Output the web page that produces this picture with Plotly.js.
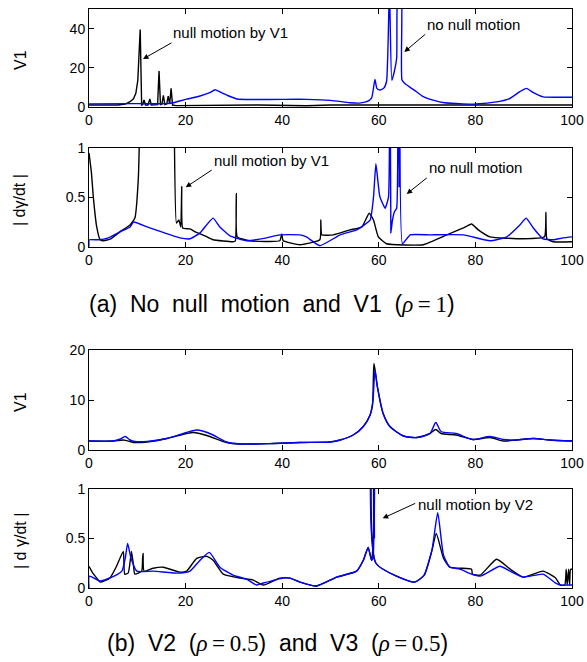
<!DOCTYPE html>
<html>
<head>
<meta charset="utf-8">
<script src="https://cdn.plot.ly/plotly-3.0.1.min.js"></script>
<style>html,body{margin:0;padding:0;background:#fff;}#chart{width:587px;height:662px;}</style>
</head>
<body>
<div id="chart"></div>
<script>
// ---- Panel (a) top: V1 ----
const p1BlackX = [0, 6, 7.5, 8.5, 9.2, 9.7, 10.1, 10.4, 10.6, 10.9, 11.1, 11.4, 11.7, 12.2, 12.6, 12.9, 13.3, 14.2, 14.5, 14.8, 15.1, 15.4, 15.7, 16.1, 16.4, 16.7, 17.0, 17.3, 18, 25, 35, 45, 50, 60, 70, 80, 90, 100];
const p1BlackY = [1.0, 1.0, 1.5, 2.7, 4.2, 7, 13.5, 30, 39.5, 1.0, 1.2, 3.6, 1.0, 1.0, 4.1, 1.0, 1.0, 1.2, 18.4, 1.0, 1.5, 6.0, 1.2, 1.5, 5.5, 1.5, 9.5, 1.0, 0.7, 0.9, 1.0, 0.6, 1.0, 1.0, 1.0, 1.0, 1.0, 1.0];
const p1BlueX = [0, 10, 16, 17.5, 20.2, 23, 25, 26.1, 27, 28.5, 30.6, 34, 40, 45, 50, 54, 56, 57.5, 58.5, 59.2, 59.6, 60.2, 61, 61.6, 62.2, 62.7, 63.2, 63.7, 64.0, 64.6, 64.8, 65.4, 66.5, 67.8, 69, 70.5, 72, 73.3, 75, 77.4, 80.2, 84.4, 87.1, 89.2, 90.6, 92, 94, 96.8, 100];
const p1BlueY = [1.6, 1.7, 1.7, 2.2, 4.0, 5.6, 7.3, 8.8, 7.8, 6.1, 4.1, 3.8, 3.9, 3.9, 3.4, 2.2, 2.0, 2.7, 4.5, 14, 9.5, 8.7, 9.5, 13, 60, 13.6, 18, 25, 60, 60, 13.8, 12, 10, 7.8, 5.6, 4.0, 3.0, 2.3, 1.9, 1.6, 1.5, 2.6, 4.3, 7.8, 9.5, 7.3, 5.2, 5.0, 5.0];

// ---- Panel (a) bottom: |dγ/dt| ----
const p2BlackX = [0, 0.5, 0.9, 1.6, 2.3, 3, 4.5, 6.4, 8.5, 9.5, 10.2, 10.6, 11, 17.3, 17.6, 18.1, 18.6, 19.0, 19.2, 19.4, 20.9, 22, 23, 24, 25.7, 29.8, 30.3, 30.5, 30.7, 33.3, 39.5, 39.9, 40.2, 43.7, 47.8, 48.0, 48.2, 50.6, 54, 56.5, 58, 58.9, 59.9, 61.6, 69.2, 74.1, 77.5, 79.2, 80.6, 83, 89.9, 94.3, 94.6, 94.8, 96.1, 100];
const p2BlackY = [0.95, 0.75, 0.5, 0.2, 0.07, 0.06, 0.08, 0.15, 0.22, 0.29, 0.68, 1.5, 3, 3, 1.5, 0.24, 0.27, 0.2, 0.61, 0.19, 0.18, 0.15, 0.13, 0.11, 0.07, 0.05, 0.06, 0.54, 0.1, 0.06, 0.06, 0.13, 0.06, 0.02, 0.07, 0.27, 0.12, 0.12, 0.17, 0.2, 0.34, 0.27, 0.1, 0.03, 0.02, 0.12, 0.19, 0.23, 0.17, 0.1, 0.08, 0.1, 0.35, 0.08, 0.05, 0.05];
const p2BlueX = [0, 0.05, 2, 4, 6.4, 8.5, 9.2, 12.6, 18.8, 20.9, 23, 24.5, 25.7, 27.1, 29.2, 32.6, 36.8, 39.5, 43.7, 45, 47.8, 52, 55.4, 58.2, 58.9, 59.4, 60.2, 61.3, 62.0, 62.3, 62.5, 62.8, 63.2, 63.7, 63.9, 64.2, 64.5, 64.9, 66.5, 70.6, 77.5, 83, 86.5, 89.2, 90.5, 92, 94, 96.1, 98.2, 100];
const p2BlueY = [0, 0.07, 0.07, 0.09, 0.15, 0.2, 0.25, 0.19, 0.09, 0.08, 0.14, 0.23, 0.29, 0.2, 0.11, 0.06, 0.09, 0.12, 0.12, 0.1, 0.01, 0.12, 0.17, 0.27, 0.5, 0.84, 0.51, 0.39, 0.5, 3, 0.14, 0.26, 0.35, 0.39, 3, 0.6, 3, 0.03, 0.12, 0.12, 0.12, 0.06, 0.1, 0.22, 0.29, 0.19, 0.08, 0.07, 0.09, 0.1];

// ---- Panel (b) top: V1 ----
const p3BlackX = [0, 5, 7.1, 8.5, 9.2, 12, 16.1, 20.2, 21.6, 24.4, 28.5, 31.3, 38.2, 43.7, 49.9, 52, 54.7, 56.8, 58.2, 58.7, 59.0, 59.7, 60.9, 62.3, 65.1, 67.9, 70.6, 71.8, 72.9, 76, 79.5, 83, 85.8, 88.5, 92, 95.4, 100];
const p3BlackY = [1.8, 1.8, 2.0, 1.7, 1.5, 1.6, 2.3, 3.3, 3.5, 2.9, 1.5, 1.2, 1.3, 1.5, 1.6, 2.0, 3.0, 4.7, 7.0, 9, 17.3, 12.7, 7.3, 4.7, 2.8, 2.5, 3.3, 4.1, 3.3, 3.0, 2.1, 2.5, 1.8, 2.0, 2.3, 2.0, 1.8];
const p3BlueX = [0, 5, 6.5, 7.5, 8.5, 9.5, 12, 16.1, 20.2, 22.3, 23.5, 25.7, 28.5, 31.3, 38.2, 43.7, 49.9, 52, 54.7, 56.8, 58.2, 58.8, 59.2, 59.7, 60.9, 62.3, 65.1, 67.9, 70.6, 71.8, 72.9, 76, 79.5, 83, 85.8, 88.5, 92, 95.4, 100];
const p3BlueY = [1.8, 1.8, 2.2, 2.7, 2.0, 1.7, 1.7, 2.3, 3.5, 4.0, 3.8, 3.0, 1.6, 1.2, 1.3, 1.5, 1.6, 2.0, 3.0, 4.7, 7.0, 10, 16, 12.7, 7.3, 4.7, 2.8, 2.5, 3.3, 5.5, 3.7, 3.3, 2.1, 2.7, 2.1, 2.0, 2.3, 2.0, 1.8];

// ---- Panel (b) bottom: |dγ/dt| ----
const p4BlackX = [0, 0.8, 1.6, 2.3, 4.3, 5.7, 7.1, 7.4, 8.1, 8.6, 8.8, 9.2, 9.5, 10.9, 11.1, 11.2, 11.4, 13.3, 15.4, 18.8, 20.2, 22.3, 24.4, 25.7, 27.8, 31.3, 34, 36.1, 39.5, 41.6, 43.7, 47.1, 51.3, 55.4, 56.8, 57.8, 58.5, 58.9, 59.0, 59.2, 59.4, 67.4, 69.4, 71, 71.9, 73.4, 74.7, 76.8, 79.2, 79.4, 81, 84.4, 87.2, 89.9, 94, 96.6, 97.6, 98.5, 98.8, 99.0, 99.3, 99.5, 99.7, 100];
const p4BlackY = [0.22, 0.15, 0.1, 0.06, 0.1, 0.22, 0.37, 0.14, 0.15, 0.3, 0.37, 0.23, 0.14, 0.17, 0.3, 0.35, 0.17, 0.2, 0.21, 0.16, 0.17, 0.3, 0.32, 0.28, 0.14, 0.1, 0.08, 0.03, 0.1, 0.1, 0.06, 0.02, 0.11, 0.17, 0.28, 0.41, 0.28, 0.5, 3, 3, 0.25, 0.06, 0.13, 0.38, 0.55, 0.3, 0.21, 0.2, 0.19, 0.14, 0.13, 0.29, 0.19, 0.11, 0.17, 0.1, 0.03, 0.03, 0.19, 0.03, 0.19, 0.03, 0.19, 0.19];
const p4BlueX = [0, 0.05, 2.3, 5.2, 6.8, 7.5, 8.0, 8.7, 9.9, 13.3, 18.8, 20.9, 23, 24.9, 27.1, 29.8, 32.6, 34.7, 36.1, 40.2, 41.6, 43.7, 47.1, 51.3, 55.4, 56.8, 57.8, 58.5, 58.8, 58.95, 59.1, 59.25, 59.4, 67.4, 69.4, 71, 72.2, 73.4, 74.7, 76.8, 79.2, 81, 85.1, 87.2, 89.9, 94, 96.6, 97.6, 100];
const p4BlueY = [0, 0.12, 0.07, 0.12, 0.17, 0.3, 0.45, 0.3, 0.17, 0.17, 0.15, 0.17, 0.28, 0.36, 0.21, 0.13, 0.09, 0.03, 0.05, 0.1, 0.1, 0.06, 0.02, 0.11, 0.17, 0.28, 0.41, 0.28, 0.3, 3, 0.5, 3, 0.25, 0.06, 0.13, 0.38, 0.76, 0.33, 0.21, 0.19, 0.14, 0.12, 0.22, 0.17, 0.11, 0.14, 0.05, 0.03, 0.03];

const xTicks = [0, 20, 40, 60, 80, 100];
const yTicksV1a = [0, 20, 40];
const yTicksRate = [0, 0.5, 1];
const yTickTextRate = ['0', '0.5', '1'];
const yTicksV1b = [0, 10, 20];

const W = 587, H = 662;
const px = v => v / W;
const py = v => 1 - v / H;

const BLACK = '#000000', BLUE = '#0000ff';
function line(x, y, color, xa, ya, smooth) {
  const ln = {color: color, width: 1.4};
  if (smooth) { ln.shape = 'spline'; ln.smoothing = smooth; }
  return {x: x, y: y, type: 'scatter', mode: 'lines', line: ln,
          xaxis: xa, yaxis: ya, showlegend: false, hoverinfo: 'skip'};
}
const data = [
  line(p1BlackX, p1BlackY, BLACK, 'x', 'y'),
  line(p1BlueX, p1BlueY, BLUE, 'x', 'y', 0.5),
  line(p2BlackX, p2BlackY, BLACK, 'x2', 'y2', 0.4),
  line(p2BlueX, p2BlueY, BLUE, 'x2', 'y2', 0.4),
  line(p3BlackX, p3BlackY, BLACK, 'x3', 'y3', 0.7),
  line(p3BlueX, p3BlueY, BLUE, 'x3', 'y3', 0.7),
  line(p4BlackX, p4BlackY, BLACK, 'x4', 'y4', 0.5),
  line(p4BlueX, p4BlueY, BLUE, 'x4', 'y4', 0.5)
];

const FONT = 'Liberation Sans, Arial, sans-serif';
function xax(anchor) {
  return {domain: [px(89), px(572)], range: [0, 100], anchor: anchor, tickmode: 'array', tickvals: xTicks,
          ticks: 'inside', ticklen: 5, tickwidth: 1, tickcolor: '#000', showline: true, linecolor: '#000', linewidth: 1,
          mirror: 'ticks', showgrid: false, zeroline: false, tickfont: {family: FONT, size: 14, color: '#000'}, fixedrange: true};
}
function yax(anchor, top, bottom, range, vals, text) {
  const a = {domain: [py(bottom), py(top)], range: range, anchor: anchor, tickmode: 'array', tickvals: vals,
          ticks: 'inside', ticklen: 5, tickwidth: 1, tickcolor: '#000', showline: true, linecolor: '#000', linewidth: 1,
          mirror: 'ticks', showgrid: false, zeroline: false, tickfont: {family: FONT, size: 14, color: '#000'}, fixedrange: true};
  if (text) a.ticktext = text;
  return a;
}

function label(text, x, y, size, opts) {
  return Object.assign({xref: 'paper', yref: 'paper', x: px(x), y: py(y), text: text, showarrow: false,
    xanchor: 'left', yanchor: 'middle', font: {family: FONT, size: size, color: '#000'}}, opts || {});
}
function arrow(tx, ty, hx, hy) {
  return {xref: 'paper', yref: 'paper', x: px(hx), y: py(hy), ax: tx - hx, ay: ty - hy, text: '',
    showarrow: true, arrowhead: 2, arrowsize: 1.1, arrowwidth: 1, arrowcolor: '#000', standoff: 0};
}
const SERIF = 'Liberation Serif, DejaVu Serif, serif';
const annotations = [
  label('V1', 20, 60, 16, {xanchor: 'center', textangle: -90}),
  label('| d\u03b3/dt |', 20, 200, 16, {xanchor: 'center', textangle: -90}),
  label('V1', 20, 402, 16, {xanchor: 'center', textangle: -90}),
  label('| d \u03b3/dt |', 20, 541, 16, {xanchor: 'center', textangle: -90}),
  label('null motion by V1', 171, 32, 15),
  arrow(173, 42, 143, 59),
  label('no null motion', 425, 25, 15),
  arrow(426.7, 33, 404.3, 52),
  label('null motion by V1', 212, 160, 15),
  arrow(213.3, 169, 185.7, 187.3),
  label('no null motion', 427, 167, 15),
  arrow(428.3, 176.7, 406.7, 194),
  label('null motion by V2', 416, 504, 15),
  arrow(416.7, 502.7, 382.7, 518.3),
  label('(a)\u00a0\u00a0No\u00a0\u00a0null\u00a0\u00a0motion\u00a0\u00a0and\u00a0\u00a0V1\u00a0\u00a0(<span style="font-family:' + SERIF + '"><i>\u03c1</i>\u2009=\u20091</span>)', 272, 304, 23, {xanchor: 'center'}),
  label('(b)\u00a0\u00a0V2\u00a0\u00a0(<span style="font-family:' + SERIF + '"><i>\u03c1</i>\u2009=\u20090.5</span>)\u00a0\u00a0and\u00a0\u00a0V3\u00a0\u00a0(<span style="font-family:' + SERIF + '"><i>\u03c1</i>\u2009=\u20090.5</span>)', 277, 643, 23, {xanchor: 'center'})
];

const layout = {
  width: W, height: H, margin: {l: 0, r: 0, t: 0, b: 0},
  paper_bgcolor: '#fff', plot_bgcolor: '#fff', showlegend: false,
  font: {family: FONT, size: 14, color: '#000'},
  xaxis: xax('y'), xaxis2: xax('y2'), xaxis3: xax('y3'), xaxis4: xax('y4'),
  yaxis: yax('x', 9, 107, [0, 50], yTicksV1a),
  yaxis2: yax('x2', 148, 246.7, [0, 1], yTicksRate, yTickTextRate),
  yaxis3: yax('x3', 350, 450, [0, 20], yTicksV1b),
  yaxis4: yax('x4', 489, 588, [0, 1], yTicksRate, yTickTextRate),
  annotations: annotations
};
Plotly.newPlot('chart', data, layout, {displayModeBar: false, staticPlot: true});
</script>
</body>
</html>
